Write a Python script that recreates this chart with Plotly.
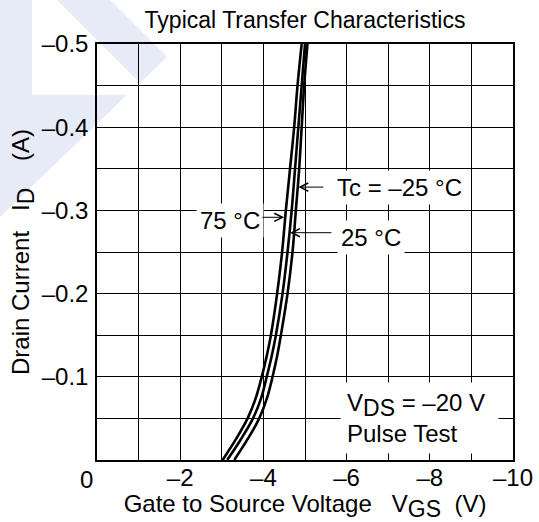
import plotly.graph_objects as go

# ---------------- data ----------------
drain_current = [0, -0.025, -0.05, -0.075, -0.10, -0.125, -0.15, -0.20, -0.25, -0.30, -0.35, -0.40, -0.45, -0.50]
vgs_75c = [-3.02, -3.34, -3.62, -3.82, -3.96, -4.08, -4.18, -4.33, -4.45, -4.54, -4.64, -4.74, -4.82, -4.92]
vgs_25c = [-3.13, -3.46, -3.75, -3.95, -4.08, -4.20, -4.30, -4.46, -4.58, -4.68, -4.76, -4.84, -4.92, -5.00]
vgs_m25c = [-3.30, -3.62, -3.90, -4.09, -4.22, -4.33, -4.42, -4.58, -4.70, -4.78, -4.86, -4.92, -4.98, -5.06]

x_tick_vals = [-2, -4, -6, -8, -10]
x_tick_text = ["–2", "–4", "–6", "–8", "–10"]
x_minor_vals = [-1, -3, -5, -7, -9]
y_tick_vals = [-0.1, -0.2, -0.3, -0.4, -0.5]
y_tick_text = ["–0.1", "–0.2", "–0.3", "–0.4", "–0.5"]
y_minor_vals = [-0.05, -0.15, -0.25, -0.35, -0.45]

FONT = "Liberation Sans, Arial, sans-serif"
FS = 24


def sub(s):
    return f"<sub><span style='font-size:{FS - 1}px'>{s}</span></sub>"


fig = go.Figure()
for v in (vgs_75c, vgs_25c, vgs_m25c):
    fig.add_trace(go.Scatter(
        x=v, y=drain_current, mode="lines",
        line=dict(color="black", width=2.6, shape="spline", smoothing=1.0),
        showlegend=False, hoverinfo="skip"))

# watermark (decorative, paper coordinates)
def px2paper(px, py):
    return (px - 97) / 416, (460 - py) / 416

def path(points):
    pts = [px2paper(*p) for p in points]
    return "M " + " L ".join(f"{x:.4f},{y:.4f}" for x, y in pts) + " Z"

wm = "#e7ebf7"
fig.add_shape(type="path", xref="paper", yref="paper", layer="below",
              path=path([(0, 0), (32, 0), (32, 95), (127, 95), (0, 217)]),
              fillcolor=wm, line=dict(width=0))
fig.add_shape(type="path", xref="paper", yref="paper", layer="below",
              path=path([(57, 0), (110, 0), (167, 57), (140, 83)]),
              fillcolor=wm, line=dict(width=0))

# labels with arrows
def arrow(tip_x, tip_y, tail_x):
    fig.add_annotation(x=tip_x, y=tip_y, ax=tail_x, ay=tip_y, axref="x", ayref="y",
                       xref="x", yref="y", text="", showarrow=True,
                       arrowhead=5, arrowsize=1.6, arrowwidth=1, arrowcolor="black")

def label(x, y, text, pad=3):
    fig.add_annotation(x=x, y=y, xref="x", yref="y", text=text, showarrow=False,
                       font=dict(family=FONT, size=FS, color="black"),
                       bgcolor="white", borderpad=pad)

label(-7.26, -0.328, "Tc = –25 °C")
arrow(-4.84, -0.328, -5.48)
label(-3.20, -0.288, "75 °C")
arrow(-4.50, -0.2917, -3.94)
label(-6.59, -0.268, "25 °C")
arrow(-4.64, -0.2732, -5.67)

fig.add_annotation(x=-5.84, y=-0.05, xref="x", yref="y", xanchor="left", yanchor="middle",
                   text=f"V{sub('DS')} = –20 V<br>Pulse Test", align="left",
                   showarrow=False, bgcolor="white", borderpad=6, width=145,
                   font=dict(family=FONT, size=FS, color="black"))

fig.add_annotation(x=0, y=0, xref="x", yref="y", text="0", showarrow=False,
                   xanchor="center", yanchor="top", xshift=-11, yshift=-4,
                   font=dict(family=FONT, size=FS, color="black"))

axis_common = dict(showgrid=True, gridcolor="black", gridwidth=1, zeroline=False,
                   showline=True, linecolor="black", linewidth=1.5, mirror=True,
                   ticks="", automargin=False,
                   tickfont=dict(family=FONT, size=FS, color="black"))

fig.update_xaxes(range=[0, -10], tickmode="array", tickvals=x_tick_vals, ticktext=x_tick_text,
                 minor=dict(tickmode="array", tickvals=x_minor_vals, showgrid=True,
                            gridcolor="black", gridwidth=1, ticks=""),
                 ticklabelstandoff=-5,
                 title=dict(text="Gate to Source Voltage\u00a0\u00a0\u00a0V" + sub("GS") + "\u00a0\u00a0(V)",
                            font=dict(family=FONT, size=FS, color="black"), standoff=4),
                 **axis_common)
fig.update_yaxes(range=[0, -0.5], tickmode="array", tickvals=y_tick_vals, ticktext=y_tick_text,
                 minor=dict(tickmode="array", tickvals=y_minor_vals, showgrid=True,
                            gridcolor="black", gridwidth=1, ticks=""),
                 ticklabelstandoff=2,
                 title=dict(text="Drain Current\u00a0\u00a0\u00a0I" + sub("D") + "\u00a0\u00a0\u00a0\u00a0(A)",
                            font=dict(family=FONT, size=FS, color="black"), standoff=5),
                 **axis_common)

fig.update_layout(
    width=539, height=522,
    margin=dict(l=97, r=26, t=44, b=62, autoexpand=False),
    paper_bgcolor="white", plot_bgcolor="rgba(0,0,0,0)",
    font=dict(family=FONT, size=FS, color="black"),
    title=dict(text="Typical Transfer Characteristics", x=0.5, xref="paper",
               y=1 - 20 / 522, yref="container", yanchor="middle", automargin=False,
               font=dict(family=FONT, size=FS - 1, color="black")),
)

fig.write_html("out.html", config={"displayModeBar": False},
               post_script="document.body.style.margin='0';document.body.style.overflow='hidden';")
